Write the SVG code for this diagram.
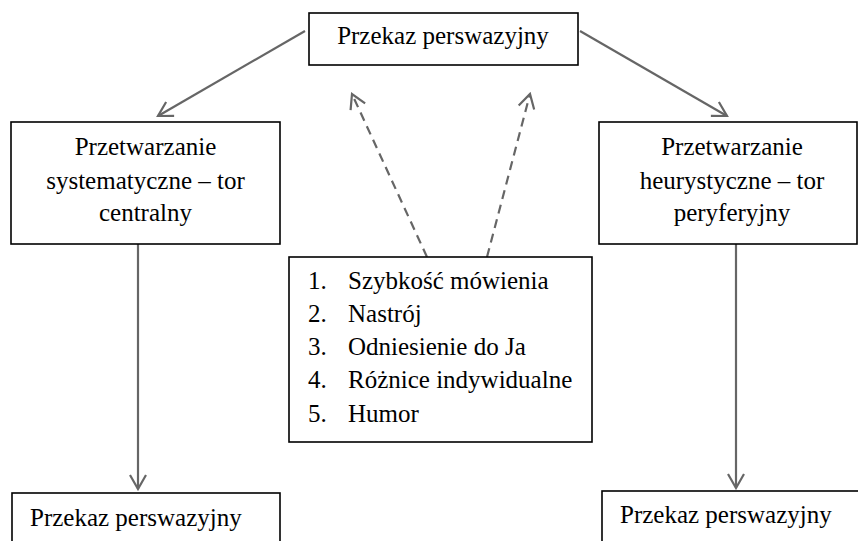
<svg xmlns="http://www.w3.org/2000/svg" width="858" height="541" viewBox="0 0 858 541">
<defs>
<style>
.box{fill:#fff;stroke:#000;stroke-width:1.6}
.t{font-family:"Liberation Serif","Times New Roman",serif;font-size:25px;fill:#000}
.c{text-anchor:middle}
.conn{stroke:#666;stroke-width:2.2;fill:none}
.dash{stroke-dasharray:9 6}
</style>
<marker id="ah" viewBox="0 0 20 20" refX="18" refY="10" markerWidth="20" markerHeight="20" markerUnits="userSpaceOnUse" orient="auto">
<polyline points="4,2 18,10 4,18" fill="none" stroke="#666" stroke-width="2.2"/>
</marker>
</defs>
<g id="connectors">
<line class="conn" x1="305" y1="31" x2="158" y2="116" marker-end="url(#ah)"/>
<line class="conn" x1="580" y1="31" x2="727" y2="116" marker-end="url(#ah)"/>
<line class="conn" x1="138" y1="244" x2="138" y2="489" marker-end="url(#ah)"/>
<line class="conn" x1="736" y1="244" x2="736" y2="488" marker-end="url(#ah)"/>
<line class="conn dash" x1="427" y1="257" x2="352" y2="94" marker-end="url(#ah)"/>
<line class="conn dash" x1="487" y1="257" x2="530" y2="94" marker-end="url(#ah)"/>
</g>
<g id="top">
<rect class="box" x="309" y="13" width="269" height="52"/>
<text class="t c" x="443" y="44">Przekaz perswazyjny</text>
</g>
<g id="left">
<rect class="box" x="11" y="122" width="269" height="122"/>
<text class="t c" x="145.5" y="155">Przetwarzanie</text>
<text class="t c" x="145.5" y="189">systematyczne – tor</text>
<text class="t c" x="145.5" y="221">centralny</text>
</g>
<g id="right">
<rect class="box" x="599" y="122" width="258" height="122"/>
<text class="t c" x="732" y="155">Przetwarzanie</text>
<text class="t c" x="732" y="189">heurystyczne – tor</text>
<text class="t c" x="732" y="221">peryferyjny</text>
</g>
<g id="list">
<rect class="box" x="289" y="257" width="303" height="185"/>
<text class="t" x="308" y="289">1.</text><text class="t" x="348" y="289">Szybkość mówienia</text>
<text class="t" x="308" y="322">2.</text><text class="t" x="348" y="322">Nastrój</text>
<text class="t" x="308" y="355">3.</text><text class="t" x="348" y="355">Odniesienie do Ja</text>
<text class="t" x="308" y="388">4.</text><text class="t" x="348" y="388">Różnice indywidualne</text>
<text class="t" x="308" y="422">5.</text><text class="t" x="348" y="422">Humor</text>
</g>
<g id="bottom-left">
<rect class="box" x="12" y="493" width="268" height="60"/>
<text class="t" x="30" y="526">Przekaz perswazyjny</text>
</g>
<g id="bottom-right">
<rect class="box" x="602" y="491" width="270" height="60"/>
<text class="t" x="620" y="523">Przekaz perswazyjny</text>
</g>
</svg>
